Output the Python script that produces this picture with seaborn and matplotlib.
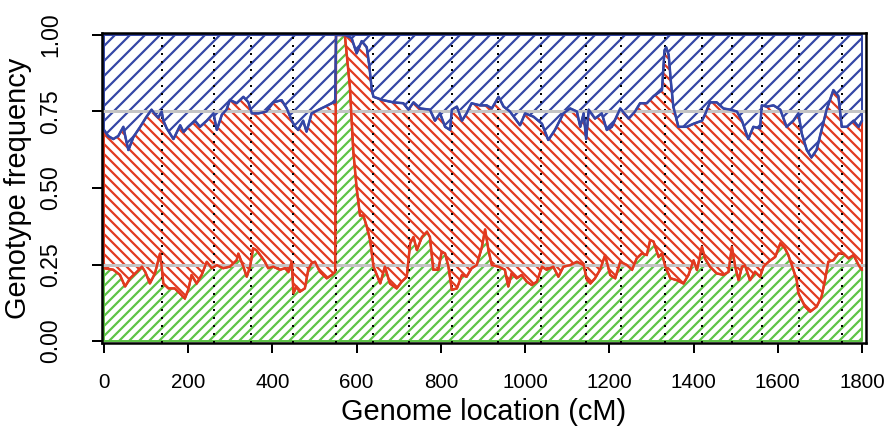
import numpy as np
import matplotlib
matplotlib.use("Agg")
import matplotlib.pyplot as plt
import seaborn as sns

# genome position (cM) and boundary between genotype classes
upper_pos = [0, 10, 22, 34, 46, 52, 58, 70, 86, 101, 113, 122, 129, 137, 141, 149, 165, 181, 189, 200,
             216, 228, 244, 260, 268, 280, 291, 299, 315, 331, 343, 351, 367, 386, 402, 422, 434, 446, 454, 461,
             473, 481, 493, 510, 525, 545, 549, 551, 573, 588, 600, 612, 624, 630, 636, 640, 663, 687, 711, 723,
             735, 751, 774, 786, 798, 810, 822, 826, 838, 850, 861, 873, 893, 909, 921, 937, 949, 964, 980, 988,
             1000, 1020, 1040, 1055, 1071, 1091, 1107, 1123, 1131, 1139, 1145, 1151, 1166, 1182, 1194, 1206, 1226, 1246, 1261, 1273,
             1289, 1305, 1325, 1331, 1335, 1341, 1346, 1352, 1364, 1384, 1400, 1420, 1427, 1439, 1455, 1471, 1487, 1503, 1515, 1530,
             1542, 1558, 1562, 1574, 1590, 1606, 1621, 1637, 1649, 1657, 1669, 1680, 1692, 1704, 1716, 1732, 1744, 1752, 1764, 1780,
             1792, 1800]
upper_val = [0.69, 0.67, 0.66, 0.67, 0.70, 0.66, 0.624, 0.667, 0.70, 0.733, 0.756, 0.74, 0.73, 0.75, 0.72, 0.695, 0.66, 0.705, 0.683, 0.70,
             0.72, 0.70, 0.72, 0.744, 0.69, 0.74, 0.756, 0.788, 0.777, 0.798, 0.78, 0.744, 0.744, 0.75, 0.78, 0.787, 0.76, 0.72, 0.70, 0.69,
             0.72, 0.684, 0.744, 0.756, 0.766, 0.78, 0.78, 1.0, 1.0, 0.99, 0.94, 0.98, 0.96, 0.90, 0.82, 0.798, 0.787, 0.78, 0.777, 0.756,
             0.78, 0.76, 0.756, 0.72, 0.744, 0.70, 0.69, 0.756, 0.766, 0.72, 0.744, 0.777, 0.77, 0.77, 0.76, 0.798, 0.766, 0.75, 0.72, 0.705,
             0.744, 0.733, 0.71, 0.657, 0.69, 0.744, 0.76, 0.75, 0.70, 0.744, 0.66, 0.756, 0.727, 0.744, 0.69, 0.70, 0.76, 0.727, 0.75, 0.777,
             0.777, 0.80, 0.82, 0.95, 0.96, 0.935, 0.85, 0.766, 0.70, 0.70, 0.71, 0.72, 0.74, 0.78, 0.78, 0.76, 0.756, 0.75, 0.72, 0.66,
             0.70, 0.695, 0.77, 0.766, 0.77, 0.756, 0.70, 0.72, 0.744, 0.678, 0.624, 0.60, 0.624, 0.69, 0.756, 0.82, 0.80, 0.70, 0.70, 0.72,
             0.70, 0.72]

lower_pos = [0, 22, 38, 50, 62, 78, 90, 98, 109, 121, 133, 137, 141, 153, 168, 180, 192, 200, 208, 220,
             232, 244, 256, 268, 283, 299, 315, 319, 331, 339, 347, 354, 362, 374, 382, 390, 402, 418, 430, 438,
             446, 450, 457, 465, 477, 485, 493, 501, 513, 529, 541, 549, 551, 572, 584, 592, 600, 608, 616, 624,
             632, 640, 648, 656, 667, 679, 695, 707, 719, 727, 735, 743, 755, 767, 774, 782, 794, 802, 810, 818,
             826, 838, 850, 861, 873, 885, 897, 905, 913, 921, 937, 952, 960, 968, 980, 992, 1004, 1016, 1028, 1040,
             1051, 1067, 1079, 1091, 1107, 1123, 1139, 1147, 1155, 1166, 1178, 1190, 1202, 1214, 1226, 1242, 1254, 1265, 1277, 1289,
             1297, 1305, 1317, 1325, 1333, 1345, 1360, 1376, 1388, 1400, 1408, 1420, 1427, 1439, 1455, 1471, 1483, 1491, 1499, 1507,
             1515, 1522, 1534, 1546, 1558, 1566, 1578, 1594, 1606, 1617, 1625, 1637, 1645, 1649, 1657, 1665, 1677, 1692, 1704, 1712,
             1720, 1732, 1744, 1756, 1768, 1780, 1792, 1800]
lower_val = [0.238, 0.233, 0.216, 0.178, 0.205, 0.226, 0.243, 0.226, 0.188, 0.221, 0.286, 0.243, 0.188, 0.172, 0.172, 0.156, 0.139, 0.167, 0.216, 0.188,
             0.216, 0.259, 0.238, 0.248, 0.238, 0.243, 0.264, 0.286, 0.243, 0.210, 0.243, 0.303, 0.297, 0.275, 0.259, 0.238, 0.243, 0.233, 0.238, 0.226,
             0.259, 0.156, 0.178, 0.161, 0.172, 0.233, 0.254, 0.259, 0.226, 0.205, 0.216, 0.226, 1.0, 1.0, 0.83, 0.62, 0.50, 0.41, 0.41, 0.374,
             0.33, 0.243, 0.216, 0.188, 0.243, 0.188, 0.172, 0.194, 0.21, 0.319, 0.34, 0.297, 0.34, 0.357, 0.34, 0.233, 0.233, 0.292, 0.286, 0.243,
             0.167, 0.172, 0.216, 0.21, 0.238, 0.248, 0.305, 0.365, 0.297, 0.248, 0.243, 0.233, 0.178, 0.221, 0.205, 0.216, 0.194, 0.183, 0.194, 0.243,
             0.233, 0.243, 0.210, 0.243, 0.248, 0.259, 0.248, 0.199, 0.188, 0.205, 0.233, 0.281, 0.216, 0.205, 0.259, 0.248, 0.233, 0.270, 0.286, 0.281,
             0.330, 0.325, 0.275, 0.286, 0.243, 0.205, 0.199, 0.188, 0.216, 0.264, 0.232, 0.308, 0.270, 0.243, 0.221, 0.216, 0.226, 0.308, 0.243, 0.199,
             0.243, 0.248, 0.199, 0.226, 0.21, 0.243, 0.259, 0.275, 0.319, 0.303, 0.281, 0.233, 0.199, 0.156, 0.134, 0.112, 0.096, 0.112, 0.145, 0.199,
             0.259, 0.264, 0.286, 0.286, 0.27, 0.281, 0.248, 0.232]

chrom_breaks = [138, 261, 349, 449, 551, 639, 724, 826, 936, 1038, 1144, 1228, 1332, 1420, 1491, 1563, 1650, 1752]
ref_levels = [0.25, 0.75]
x_ticks = [0, 200, 400, 600, 800, 1000, 1200, 1400, 1600, 1800]
y_ticks = [0.00, 0.25, 0.50, 0.75, 1.00]

DPI = 180
px = 72.0 / DPI  # one pixel in points

sns.set_style("white")
plt.rcParams["font.family"] = ["Liberation Sans", "DejaVu Sans"]
plt.rcParams["hatch.linewidth"] = 2.2 * px
for k in ["text.color", "axes.labelcolor", "xtick.color", "ytick.color"]:
    plt.rcParams[k] = "black"

blue = "#3446a6"
red = "#e2391f"
green = "#5ec347"

fig = plt.figure(figsize=(893 / DPI, 427 / DPI), dpi=DPI)
ax = fig.add_axes([102 / 893, 1 - 343 / 427, 764 / 893, 310 / 427])

up_x = np.array(upper_pos, dtype=float)
up_y = np.array(upper_val)
lo_x = np.array(lower_pos, dtype=float)
lo_y = np.array(lower_val)

# hatched genotype bands
ax.fill_between(lo_x, 0, lo_y, facecolor="white", edgecolor=green, hatch="//////", lw=2 * px, zorder=1)
ax.fill(np.concatenate([up_x, lo_x[::-1]]), np.concatenate([up_y, lo_y[::-1]]),
        facecolor="white", edgecolor=red, hatch="\\" * 6, lw=2 * px, zorder=1)
ax.fill_between(up_x, up_y, 1, facecolor="white", edgecolor=blue, hatch="////", lw=2 * px, zorder=1)

for b in chrom_breaks:
    ax.axvline(b, color="black", lw=2 * px, ls=(0, (1, 3)), zorder=2)
for h in ref_levels:
    ax.axhline(h, color="#c4c4c4", lw=3 * px, zorder=3)

sns.lineplot(x=lo_x, y=lo_y, color=red, lw=2.5 * px, sort=False, estimator=None, ax=ax, zorder=4)
sns.lineplot(x=up_x, y=up_y, color=blue, lw=2.5 * px, sort=False, estimator=None, ax=ax, zorder=4)

ax.set_xlim(-4.7, 1809.5)
ax.set_ylim(-0.0065, 1.0065)
ax.set_xticks(x_ticks)
ax.set_yticks(y_ticks)
ax.set_xticklabels([str(t) for t in x_ticks], fontsize=20.5 * px)
ax.set_yticklabels([f"{t:.2f}" for t in y_ticks], fontsize=23 * px, rotation=90, va="center")
ax.tick_params(axis="both", direction="out", length=10 * px, width=2 * px, color="black",
               bottom=True, left=True)
ax.tick_params(axis="x", pad=20 * px)
ax.tick_params(axis="y", pad=30 * px)
for s in ax.spines.values():
    s.set_color("black")
    s.set_linewidth(2.5 * px)
    s.set_zorder(5)

ax.set_xlabel("Genome location (cM)", fontsize=29 * px, labelpad=6 * px)
ax.set_ylabel("Genotype frequency", fontsize=29 * px, labelpad=7 * px)

fig.savefig("out.png", dpi=DPI)
